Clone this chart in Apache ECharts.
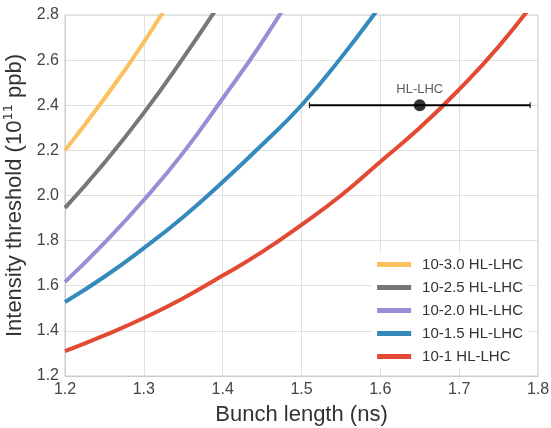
<!DOCTYPE html>
<html>
<head>
<meta charset="utf-8">
<script src="https://cdn.jsdelivr.net/npm/echarts@6/dist/echarts.min.js"></script>
<style>
  html, body { margin: 0; padding: 0; background: #fff; }
  #chart { width: 551px; height: 428px; }
</style>
</head>
<body>
<div id="chart"></div>
<script>
// bunch length samples (ns)
const bunchLength = [1.2, 1.25, 1.3, 1.35, 1.4, 1.45, 1.5, 1.55, 1.6, 1.65, 1.7, 1.75, 1.8];

// intensity thresholds (1e11 ppb)
const thr30 = [2.20, 2.43, 2.68, 2.96];
const thr25 = [1.945, 2.145, 2.366, 2.61, 2.87];
const thr20 = [1.617, 1.79, 1.98, 2.19, 2.43, 2.68, 2.96];
const thr15 = [1.528, 1.64, 1.767, 1.905, 2.06, 2.225, 2.40, 2.61, 2.84, 3.08];
const thr10 = [1.31, 1.38, 1.457, 1.545, 1.645, 1.75, 1.87, 2.00, 2.15, 2.30, 2.47, 2.66, 2.88];

const seriesNames = ['10-3.0 HL-LHC', '10-2.5 HL-LHC', '10-2.0 HL-LHC', '10-1.5 HL-LHC', '10-1 HL-LHC'];
const seriesColors = ['#FBC15E', '#777777', '#988ED5', '#348ABD', '#E24A33'];

// HL-LHC operating point with bunch length range
const hlPoint = [1.65, 2.4];
const hlRange = [1.51, 1.79];

const chart = echarts.init(document.getElementById('chart'));

const toPairs = (vals) => vals.map((v, i) => [bunchLength[i], v]);

const lineSeries = [thr30, thr25, thr20, thr15, thr10].map((vals, i) => ({
  name: seriesNames[i],
  type: 'line',
  data: toPairs(vals),
  smooth: true,
  showSymbol: false,
  clip: true,
  color: seriesColors[i],
  lineStyle: { width: 4, color: seriesColors[i] },
  z: 3,
}));

const option = {
  animation: false,
  textStyle: { fontFamily: 'Liberation Sans' },
  grid: {
    left: 65, right: 13, top: 15, bottom: 52,
    containLabel: false,
    outerBoundsMode: 'none',
    show: true, borderColor: '#cccccc', borderWidth: 1,
  },
  xAxis: {
    type: 'value',
    min: 1.2, max: 1.8, interval: 0.1,
    name: 'Bunch length (ns)',
    nameLocation: 'middle',
    nameGap: 28,
    nameTextStyle: { fontSize: 22, color: '#333' },
    axisLine: { lineStyle: { color: '#cccccc' } },
    axisTick: { show: false },
    axisLabel: { fontSize: 16, color: '#444', margin: 6, formatter: (v) => v.toFixed(1) },
    splitLine: { lineStyle: { color: '#e0e0e0' } },
  },
  yAxis: {
    type: 'value',
    min: 1.2, max: 2.8, interval: 0.2,
    name: '{n|Intensity threshold (10}{s|11}{n| ppb)}',
    nameLocation: 'middle',
    nameGap: 36,
    nameTextStyle: {
      rich: {
        n: { fontSize: 22, color: '#333', lineHeight: 26, fontFamily: 'Liberation Sans' },
        s: { fontSize: 13, color: '#333', lineHeight: 26, verticalAlign: 'top', padding: [0, 0, 10, 0], fontFamily: 'DejaVu Sans' },
      },
    },
    axisLine: { show: true, lineStyle: { color: '#cccccc' } },
    axisTick: { show: false },
    axisLabel: { fontSize: 16, color: '#444', margin: 6, formatter: (v) => v.toFixed(1) },
    splitLine: { lineStyle: { color: '#e0e0e0' } },
  },
  legend: {
    orient: 'vertical',
    right: 22,
    top: 253,
    itemWidth: 34,
    itemHeight: 5,
    itemGap: 8,
    icon: 'rect',
    backgroundColor: '#ffffff',
    padding: [4, 6, 4, 6],
    textStyle: { fontSize: 15, color: '#333', padding: [0, 0, 0, 6] },
    data: seriesNames,
  },
  series: [
    ...lineSeries,
    {
      name: 'HL-LHC range',
      type: 'custom',
      z: 4,
      data: [[hlRange[0], hlRange[1], hlPoint[1]]],
      renderItem: (params, api) => {
        const a = api.coord([api.value(0), api.value(2)]);
        const b = api.coord([api.value(1), api.value(2)]);
        const cap = 3;
        return {
          type: 'group',
          children: [
            { type: 'line', shape: { x1: a[0], y1: a[1], x2: b[0], y2: b[1] }, style: { stroke: '#000', lineWidth: 2 } },
            { type: 'line', shape: { x1: a[0], y1: a[1] - cap, x2: a[0], y2: a[1] + cap }, style: { stroke: '#000', lineWidth: 1 } },
            { type: 'line', shape: { x1: b[0], y1: b[1] - cap, x2: b[0], y2: b[1] + cap }, style: { stroke: '#000', lineWidth: 1 } },
          ],
        };
      },
    },
    {
      name: 'HL-LHC',
      type: 'scatter',
      z: 5,
      data: [hlPoint],
      symbolSize: 12,
      itemStyle: { color: '#000' },
      label: {
        show: true,
        position: 'top',
        distance: 3,
        formatter: 'HL-LHC',
        fontSize: 13,
        color: '#333',
      },
    },
  ],
};

chart.setOption(option);
</script>
</body>
</html>
